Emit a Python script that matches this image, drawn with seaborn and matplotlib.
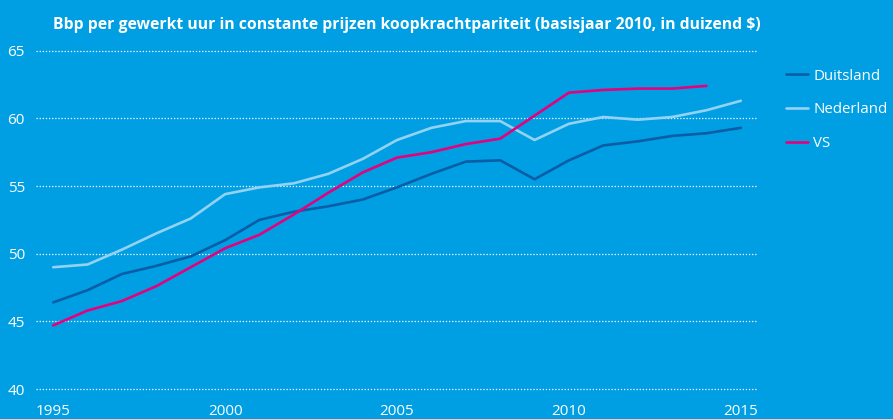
import seaborn as sns
import matplotlib.pyplot as plt
import pandas as pd
import numpy as np

# data
jaren = list(range(1995, 2016))
duitsland = [46.4, 47.3, 48.5, 49.1, 49.8, 51.0, 52.5, 53.1, 53.5, 54.0, 54.9,
             55.9, 56.8, 56.9, 55.5, 56.9, 58.0, 58.3, 58.7, 58.9, 59.3]
nederland = [49.0, 49.2, 50.3, 51.5, 52.6, 54.4, 54.9, 55.2, 55.9, 57.0, 58.4,
             59.3, 59.8, 59.8, 58.4, 59.6, 60.1, 59.9, 60.1, 60.6, 61.3]
vs = [44.7, 45.8, 46.5, 47.6, 49.0, 50.4, 51.4, 52.9, 54.5, 56.0, 57.1,
      57.5, 58.1, 58.5, 60.2, 61.9, 62.1, 62.2, 62.2, 62.4, np.nan]
landen = ["Duitsland", "Nederland", "VS"]
kleuren = ["#0a5da6", "#93d2f2", "#e5007d"]

df = pd.DataFrame({"jaar": jaren, "Duitsland": duitsland,
                   "Nederland": nederland, "VS": vs})
df = df.melt(id_vars="jaar", var_name="land", value_name="bbp").dropna()

bg = "#009fe3"
sns.set_style("white")
plt.rcParams["font.family"] = ["Open Sans", "DejaVu Sans"]

fig = plt.figure(figsize=(8.93, 4.19), dpi=100, facecolor=bg)
ax = fig.add_axes([36 / 893, 1 - 389 / 419, (756 - 36) / 893, (389 - 50.7) / 419])
ax.set_facecolor(bg)

sns.lineplot(data=df, x="jaar", y="bbp", hue="land", hue_order=landen,
             palette=kleuren, linewidth=1.9, ax=ax, legend=False)

ax.set_xlim(1994.5, 2015.44)
ax.set_ylim(40, 65)
ax.set_yticks([40, 45, 50, 55, 60, 65])
ax.set_xticks([1995, 2000, 2005, 2010, 2015])
ax.set_xlabel("")
ax.set_ylabel("")
for s in ax.spines.values():
    s.set_visible(False)
ax.grid(axis="y", color="white", linestyle=(0, (1, 1.5)), linewidth=0.9)
ax.set_axisbelow(True)
for gl in ax.get_ygridlines():
    gl.set_clip_on(False)
ax.tick_params(axis="both", length=0, colors="white", labelsize=11)
ax.tick_params(axis="y", pad=8)
ax.tick_params(axis="x", pad=11)

fig.text(53 / 893, 1 - 25 / 419,
         "Bbp per gewerkt uur in constante prijzen koopkrachtpariteit (basisjaar 2010, in duizend $)",
         color="white", fontsize=11.3, fontweight="bold", va="center", ha="left")

handles = [plt.Line2D([], [], color=c, linewidth=1.9) for c in kleuren]
leg = ax.legend(handles, landen, loc="upper left", bbox_to_anchor=(772 / 893, 1 - 55 / 419),
                bbox_transform=fig.transFigure, frameon=False, fontsize=10.8,
                handlelength=1.5, handletextpad=0.35, labelspacing=1.25)
for t in leg.get_texts():
    t.set_color("white")

plt.savefig("out.png", dpi=100, facecolor=bg)
